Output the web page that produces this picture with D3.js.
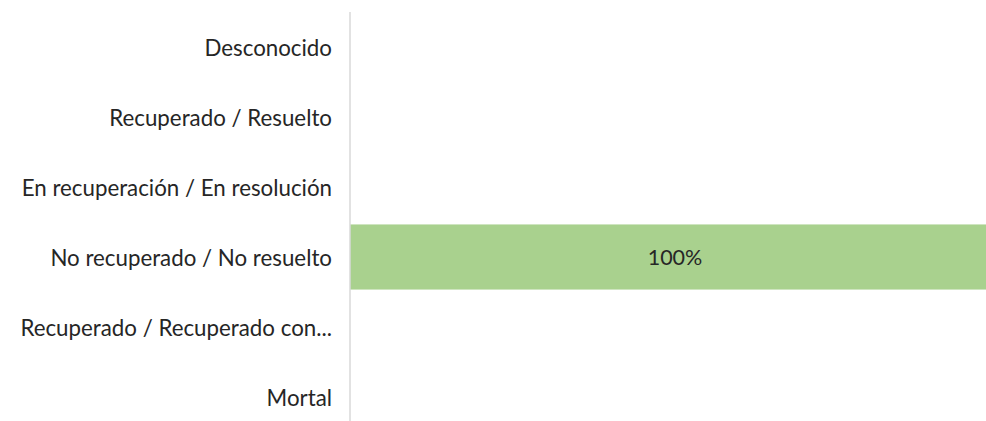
<!DOCTYPE html>
<html>
<head>
<meta charset="utf-8">
<script src="https://cdn.jsdelivr.net/npm/d3@7"></script>
<style>
  body { margin: 0; background: #fff; }
</style>
</head>
<body>
<div id="chart"></div>
<script>
// data
var categories = ["Desconocido", "Recuperado / Resuelto", "En recuperación / En resolución",
  "No recuperado / No resuelto", "Recuperado / Recuperado con...", "Mortal"];
var values = [0, 0, 0, 1, 0, 0];

var W = 986, H = 421;
var margin = {top: 12, left: 350};

var svg = d3.select("#chart")
  .append("svg")
    .attr("width", W)
    .attr("height", H);

var y = d3.scaleBand()
  .domain(categories)
  .range([margin.top, margin.top + 70 * categories.length])
  .paddingInner(0.07)
  .paddingOuter(0.035);

var x = d3.scaleLinear()
  .domain([0, 1])
  .range([margin.left, 1000]);

// bars
svg.selectAll(".bar")
  .data(values)
  .enter()
  .append("rect")
    .attr("class", "bar")
    .attr("x", x(0))
    .attr("y", function(d, i) { return y(categories[i]); })
    .attr("width", function(d) { return x(d) - x(0); })
    .attr("height", y.bandwidth())
    .attr("fill", "#a9d18e");

// value labels
svg.selectAll(".val")
  .data(values.filter(function(d) { return d > 0; }).map(function(d) { return {v: d, c: categories[values.indexOf(d)]}; }))
  .enter()
  .append("text")
    .attr("x", function(d) { return (x(0) + x(d.v)) / 2; })
    .attr("y", function(d) { return y(d.c) + y.bandwidth() / 2; })
    .attr("dy", "0.35em")
    .attr("text-anchor", "middle")
    .attr("font-family", "Lato, sans-serif")
    .attr("font-size", "21.5px")
    .attr("fill", "#262626")
    .text(function(d) { return d3.format(".0%")(d.v); });

// y axis
var yAxis = svg.append("g")
  .attr("transform", "translate(" + margin.left + ",0)")
  .call(d3.axisLeft(y).tickSize(0).tickPadding(18));
yAxis.select(".domain").attr("stroke", "#d9d9d9").attr("stroke-width", 1.5)
  .attr("d", "M0," + margin.top + "V" + H);
yAxis.selectAll("text")
  .attr("dy", "0.4em")
  .attr("font-family", "Lato, sans-serif")
  .attr("font-size", "22.3px")
  .attr("fill", "#262626");
</script>
</body>
</html>
